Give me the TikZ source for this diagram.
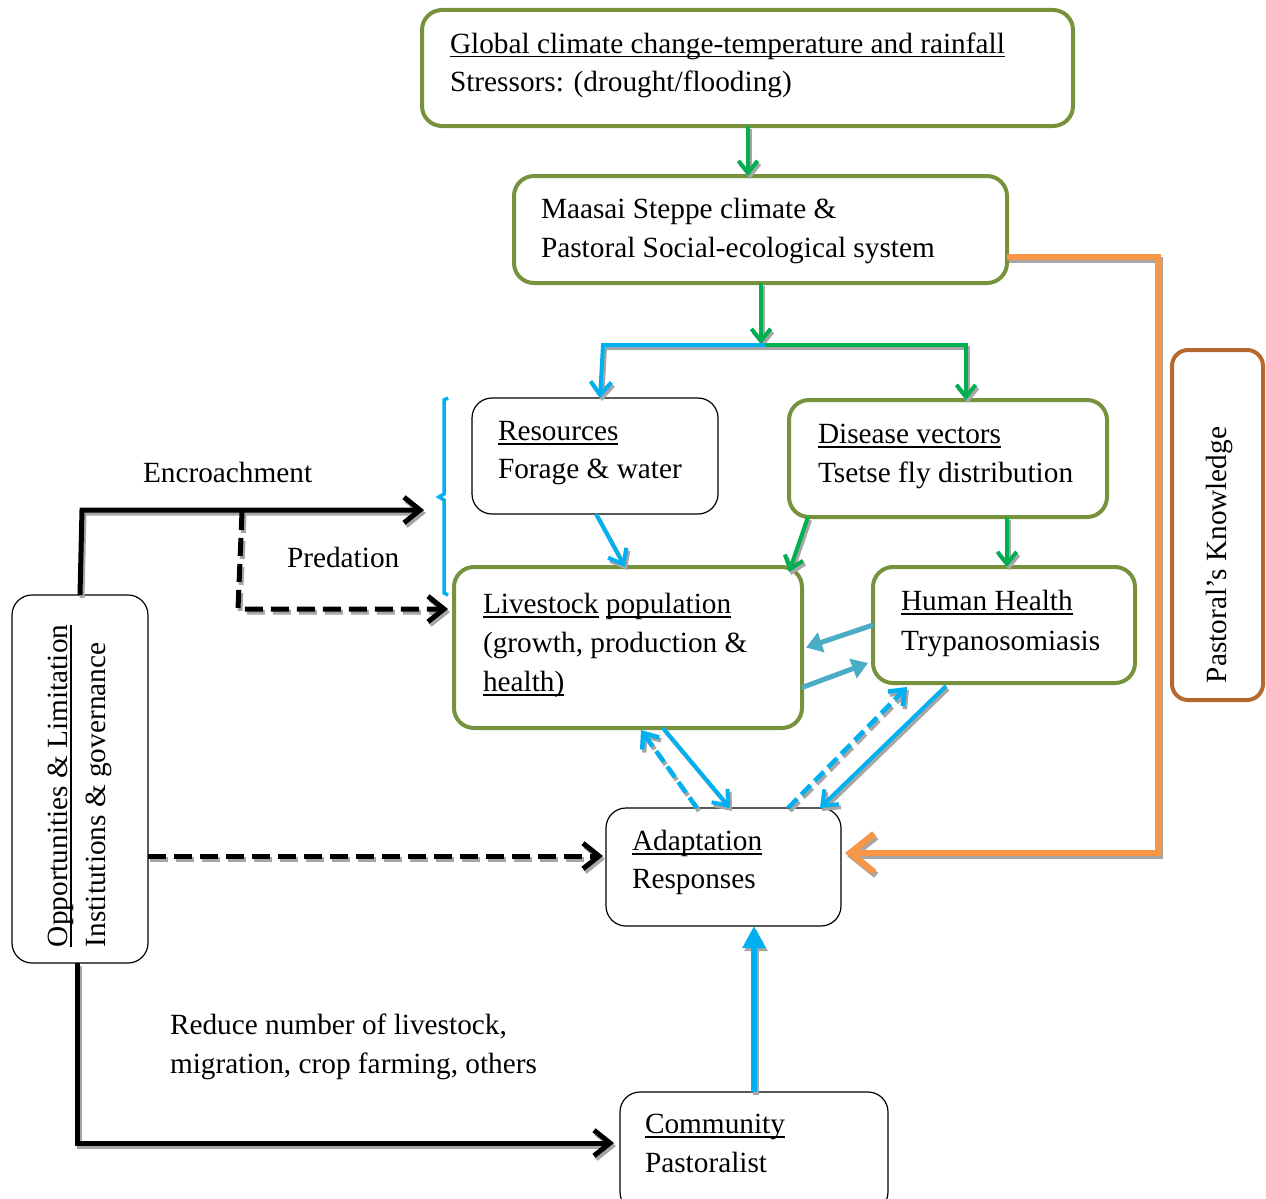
\documentclass[tikz,border=0pt]{standalone}
\usepackage{fontspec}
\setmainfont{Liberation Serif}
\usetikzlibrary{arrows.meta,calc}
\definecolor{olivebd}{HTML}{76923C}
\definecolor{grn}{HTML}{00B050}
\definecolor{blu}{HTML}{00B0F0}
\definecolor{teal2}{HTML}{4BACC6}
\definecolor{orng}{HTML}{F79646}
\definecolor{brwn}{HTML}{B5692E}
\newcommand\ulx[1]{{\setbox0\hbox{#1}\rlap{\rule[-4.5pt]{\wd0}{1.6pt}}\box0}}
\newcommand\shdraw[2]{\draw[#1, draw=black!35, fill=none, transform canvas={shift={(2pt,-3pt)}}] #2; \draw[#1] #2;}
\begin{document}
\begin{tikzpicture}[x=1pt,y=-1pt,
  every node/.style={font=\fontsize{29.3}{39}\selectfont},
  gbox/.style={draw=olivebd, line width=4pt, rounded corners=20pt, inner sep=0pt, outer sep=0pt},
  kbox/.style={draw=black, line width=1.2pt, rounded corners=20pt, inner sep=0pt, outer sep=0pt},
  txt/.style={anchor=base west, inner sep=0pt, outer sep=0pt},
  barb/.style={-{Straight Barb[length=#1, width=1.6*#1]}},
  garrow/.style={draw=grn, line width=4pt, barb=12pt},
  barrow/.style={draw=blu, line width=4pt, barb=13pt},
  bdash/.style={draw=blu, line width=4.5pt, barb=13pt, dash pattern=on 13pt off 6pt},
  tarrow/.style={draw=teal2, line width=5pt, -{Triangle[length=16pt,width=20pt]}},
  karrow/.style={draw=black, line width=5pt, barb=16pt},
  kdash/.style={karrow, dash pattern=on 18pt off 8pt},
]
\useasboundingbox (0,0) rectangle (1266,1199);

% boxes
\node[gbox, minimum width=651pt, minimum height=116pt] (glob) at (747.5,68) {};
\node[gbox, minimum width=493pt, minimum height=107pt] (maasai) at (760.5,229.5) {};
\node[kbox, minimum width=246pt, minimum height=116pt] (res) at (595,456) {};
\node[gbox, minimum width=318pt, minimum height=117pt] (dis) at (948,458.5) {};
\node[gbox, minimum width=348pt, minimum height=161pt] (live) at (628,647.5) {};
\node[gbox, minimum width=262pt, minimum height=116pt] (hum) at (1004,625) {};
\node[kbox, minimum width=235pt, minimum height=118pt] (adapt) at (723.5,867) {};
\node[kbox, minimum width=268pt, minimum height=120pt] (comm) at (754,1152) {};
\node[kbox, minimum width=136pt, minimum height=368pt] (opp) at (80,779) {};
\node[draw=brwn, line width=4pt, rounded corners=16pt, inner sep=0pt, minimum width=91pt, minimum height=350pt] (past) at (1217.5,525) {};

% texts
\node[txt] (globa) at (450,53) {\ulx{Global climate change-temperature and rainfall}};
\node[txt] (globb) at (450,92) {Stressors: (drought/flooding)};
\node[txt] (maasaia) at (541,218) {Maasai Steppe climate \&};
\node[txt] (maasaib) at (541,257) {Pastoral Social-ecological system};
\node[txt] (resa) at (498,440) {\ulx{Resources}};
\node[txt] (resb) at (498,478) {Forage \& water};
\node[txt] (disa) at (818,443) {\ulx{Disease vectors}};
\node[txt] (disb) at (818,482) {Tsetse fly distribution};
\node[txt] (livea) at (483,613) {\ulx{Livestock} \ulx{population}};
\node[txt] (liveb) at (483,652) {(growth, production \&};
\node[txt] (livec) at (483,691) {\ulx{health)}};
\node[txt] (huma) at (901,610) {\ulx{Human Health}};
\node[txt] (humb) at (901,650) {Trypanosomiasis};
\node[txt] (adapta) at (632,850) {\ulx{Adaptation}};
\node[txt] (adaptb) at (632,888) {Responses};
\node[txt] (comma) at (645,1133) {\ulx{Community}};
\node[txt] (commb) at (645,1172) {Pastoralist};
\node[txt, rotate=90] (oppa) at (67,947) {\ulx{Opportunities \& Limitation}};
\node[txt, rotate=90] (oppb) at (105,947) {Institutions \& governance};
\node[txt, rotate=90] (pasta) at (1226,683) {Pastoral’s Knowledge};
\node[txt] (enc) at (143,482) {Encroachment};
\node[txt] (pred) at (287,567) {Predation};
\node[txt] (reda) at (170,1034) {Reduce number of livestock,};
\node[txt] (redb) at (170,1073) {migration, crop farming, others};

% coordinates
\coordinate (split) at (765,345);
\coordinate (bl) at (603,345);
\coordinate (gr) at (966,345);
\coordinate (encend) at (424,510);
\coordinate (enccorner) at (82,510);
\coordinate (predtop) at (242,512);
\coordinate (predcorner) at (238,609);
\coordinate (oc1) at (1158,257);
\coordinate (oc2) at (1158,853);
\coordinate (bc) at (77,1143);

% green arrows
\shdraw{garrow}{(glob.south -| 748,0) -- (maasai.north -| 748,0)}
\shdraw{garrow}{(maasai.south -| 761,0) -- (761,344)}
\shdraw{barrow, line join=miter}{(split) -- (bl) -- (res.north -| 600,0)}
\shdraw{garrow, line join=miter}{(split) -- (gr) -- (dis.north -| 966,0)}
\shdraw{garrow}{(dis.south -| 808,0) -- (789,572)}
\shdraw{garrow}{(dis.south -| 1007,0) -- (hum.north -| 1007,0)}

% blue arrows
\shdraw{barrow}{(res.south -| 596,0) -- (live.north -| 625,0)}
\shdraw{barrow}{(live.south -| 663,0) -- (adapt.north -| 730,0)}
\shdraw{bdash}{(adapt.north -| 697,0) -- (641,730)}
\shdraw{bdash}{(adapt.north -| 788,0) -- (907,687)}
\shdraw{barrow}{(946,686) -- (adapt.north -| 820,0)}
\shdraw{draw=blu, line width=6.5pt, -{Triangle[length=22pt,width=22pt]}}{(comm.north -| 754,0) -- (adapt.south -| 754,0)}

% teal
\draw[tarrow] (hum.west) -- ($(live.east)+(4,0)$);
\draw[tarrow] ($(live.east)+(0,40)$) -- ($(hum.west)+(-5,38)$);

% orange
\shdraw{draw=orng, line width=6.5pt, barb=24pt, line join=miter}{(maasai.east |- oc1) -- (oc1) -- (oc2) -- ($(adapt.east |- oc2)+(4,0)$)}

% brace
\draw[draw=blu, line width=3.5pt] (448,398) -- (444,400) -- (444,494) -- (439,497) -- (444,500) -- (444,593) -- (448,595);

% black arrows
\shdraw{karrow, line join=miter}{(opp.north -| 80,0) -- (enccorner) -- (encend)}
\shdraw{kdash, line join=miter}{(predtop) -- (predcorner) -- ($(live.west |- predcorner)+(-6,0)$)}
\shdraw{kdash}{(opp.east |- 0,856) -- ($(adapt.west |- 0,856)+(-3,0)$)}
\shdraw{karrow, line join=miter}{(opp.south -| bc) -- (bc) -- ($(comm.west |- bc)+(-6,0)$)}
\end{tikzpicture}
\end{document}
